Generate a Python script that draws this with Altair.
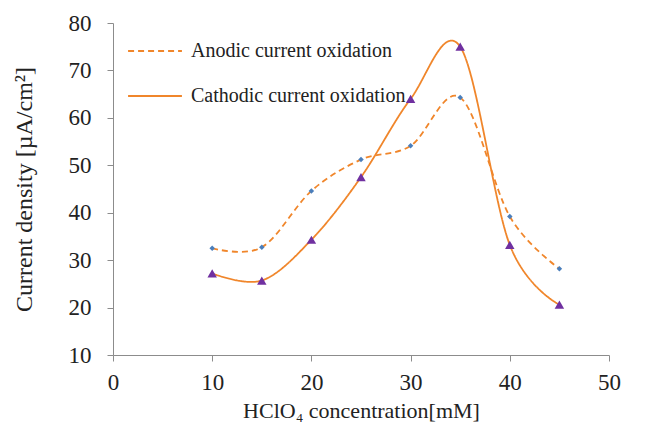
import altair as alt
import pandas as pd

conc = [10, 15, 20, 25, 30, 35, 40, 45]
anodic = [32.5, 32.7, 44.6, 51.2, 54.1, 64.3, 39.2, 28.2]
cathodic = [27.2, 25.7, 34.3, 47.5, 64.0, 75.0, 33.2, 20.6]
series_names = ["Anodic current oxidation", "Cathodic current oxidation"]

rows = []
for c, a, k in zip(conc, anodic, cathodic):
    rows.append({"conc": c, "val": a, "series": series_names[0]})
    rows.append({"conc": c, "val": k, "series": series_names[1]})
df = pd.DataFrame(rows)

FONT = "Liberation Serif"
xenc = alt.X("conc:Q", scale=alt.Scale(domain=[0, 50], nice=False),
             axis=alt.Axis(values=[0, 10, 20, 30, 40, 50], title="HClO₄ concentration[mM]"))
yenc = alt.Y("val:Q", scale=alt.Scale(domain=[10, 80], nice=False, zero=False),
             axis=alt.Axis(values=[10, 20, 30, 40, 50, 60, 70, 80], title="Current density  [µA/cm²]"))

lines = alt.Chart(df).mark_line(interpolate="cardinal", strokeWidth=1.8).encode(
    x=xenc, y=yenc,
    color=alt.Color("series:N", scale=alt.Scale(domain=series_names, range=["#F0862B", "#F0862B"]),
                    legend=alt.Legend(title=None, orient="none", legendX=14, legendY=0,
                                      symbolType="stroke", symbolSize=2900, symbolStrokeWidth=2,
                                      labelFont=FONT, labelFontSize=20, labelColor="#222",
                                      labelLimit=0, rowPadding=7, labelOffset=8)),
    strokeDash=alt.StrokeDash("series:N", scale=alt.Scale(domain=series_names, range=[[6, 4], [1, 0]]),
                              legend=None),
)

diam = alt.Chart(df[df.series == series_names[0]]).mark_point(
    shape="diamond", filled=True, size=30, color="#4A7EBB", opacity=1).encode(x=xenc, y=yenc)
tri = alt.Chart(df[df.series == series_names[1]]).mark_point(
    shape="triangle-up", filled=True, size=90, color="#7030A0", opacity=1).encode(x=xenc, y=yenc)

chart = alt.layer(lines, diam, tri).properties(
    width=496, height=332,
    autosize=alt.AutoSizeParams(type="none"),
    padding={"left": 113, "top": 23, "right": 46, "bottom": 78},
    background="white",
).configure_view(stroke=None).configure_axis(
    grid=False, domainColor="#8c8c8c", tickColor="#8c8c8c", tickSize=6, labelFlush=False,
    labelFont=FONT, labelFontSize=23, labelColor="#222", titleFont=FONT,
    titleFontSize=22, titleFontWeight="normal", titleColor="#222",
).configure_axisY(titlePadding=32, labelPadding=16, titleFontSize=24).configure_axisX(
    titlePadding=6, labelPadding=10)

chart.save("out.html", embed_options={"renderer": "svg", "actions": False})
